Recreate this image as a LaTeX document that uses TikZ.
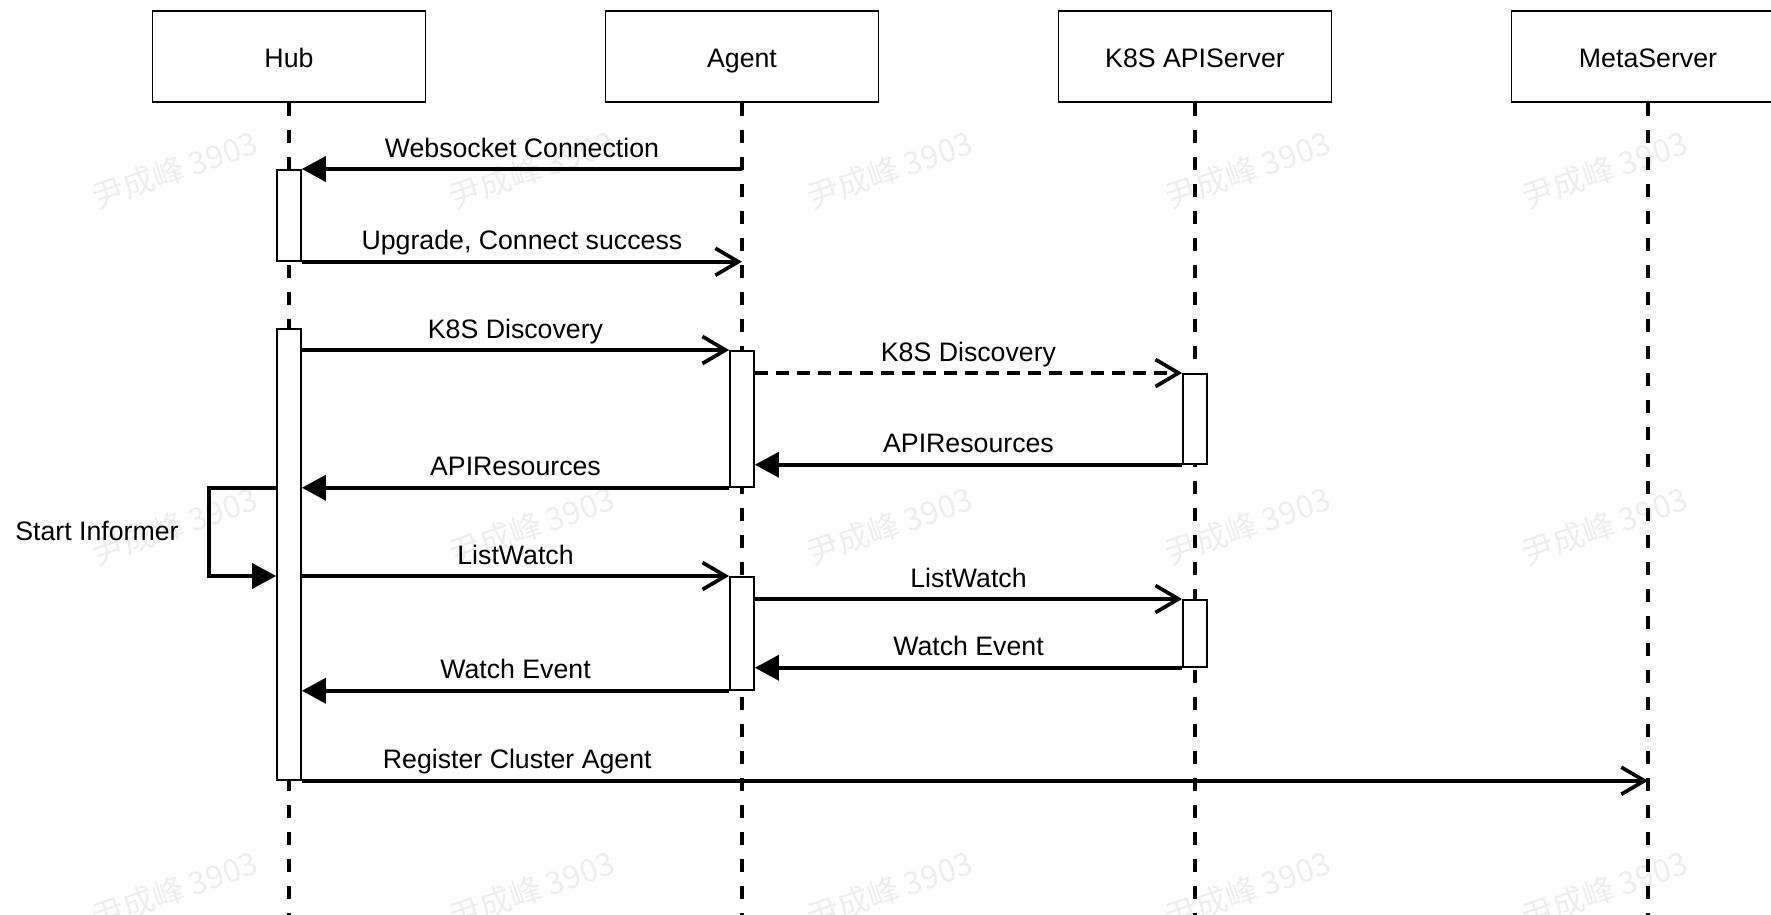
\documentclass[tikz,border=0pt]{standalone}
\usepackage{fontspec}
\setmainfont{Liberation Sans}
\newfontfamily\cjkfont{Noto Sans CJK SC}
\usetikzlibrary{arrows.meta}

\begin{document}
\begin{tikzpicture}[thick,
        every node/.style={font=\fontsize{7.6}{9}\selectfont, inner sep=1pt},
        actor/.style={draw, line width=0.55pt, minimum width=2.73cm, minimum height=0.91cm,
            text height=1.6ex, text depth=0.4ex},
        actbox/.style={draw, fill=white, line width=0.5pt, minimum width=0.24cm, anchor=north},
        lifeline/.style={line width=1pt, dash pattern=on 0.13cm off 0.14cm},
        call/.style={line width=1.05pt, -{Straight Barb[length=0.23cm, width=0.27cm]}},
        reply/.style={line width=1.05pt, -{Triangle[length=0.24cm, width=0.25cm]}},
        lbl/.style={midway, anchor=base, yshift=0.12cm},
        wmark/.style={text=black!7, rotate=19, font=\cjkfont\fontsize{9}{11}\selectfont}]
    \useasboundingbox (0,0) rectangle (17.71,-9.15);

    % Watermarks in the background
    \foreach \wx [count=\i] in {1.75,5.32,8.90,12.48,16.05}
        \foreach \wy [count=\j] in {-1.70,-5.26,-8.90}
            \node[wmark] (wm\i\j) at (\wx,\wy) {尹成峰 3903};

    % Participants
    \node[actor] (hub) at (2.89,-0.565) {Hub};
    \node[actor] (agent) at (7.42,-0.565) {Agent};
    \node[actor] (k8s) at (11.95,-0.565) {K8S APIServer};
    \node[actor] (meta) at (16.48,-0.565) {MetaServer};

    % Lifelines down to the bottom edge
    \coordinate (bottom) at (0,-9.15);
    \foreach \p in {hub,agent,k8s,meta}
        \draw[lifeline] (\p.south) -- (\p |- bottom);

    % Activation boxes
    \node[actbox, minimum height=0.91cm] (hubA1) at (2.89,-1.69) {};
    \node[actbox, minimum height=4.51cm] (hubA2) at (2.89,-3.28) {};
    \node[actbox, minimum height=1.36cm] (agentA1) at (7.42,-3.50) {};
    \node[actbox, minimum height=1.13cm] (agentA2) at (7.42,-5.76) {};
    \node[actbox, minimum height=0.90cm] (k8sA1) at (11.95,-3.73) {};
    \node[actbox, minimum height=0.67cm] (k8sA2) at (11.95,-5.99) {};

    % Connection
    \draw[reply] (agent |- hubA1.north) -- (hubA1.north east)
        node[lbl] {Websocket Connection};
    \draw[call] (hubA1.south east) -- (agent |- hubA1.south)
        node[lbl] {Upgrade, Connect success};

    % Discovery
    \draw[call] (hubA2.east |- agentA1.north) -- (agentA1.north west)
        node[lbl] {K8S Discovery};
    \draw[call, dash pattern=on 0.13cm off 0.08cm] (agentA1.east |- k8sA1.north) -- (k8sA1.north west)
        node[lbl] {K8S Discovery};
    \draw[reply] (k8sA1.south west) -- (agentA1.east |- k8sA1.south)
        node[lbl] {APIResources};
    \draw[reply] (agentA1.south west) -- (hubA2.east |- agentA1.south)
        node[lbl] {APIResources};

    % Self call on the hub
    \draw[reply] (hubA2.west |- agentA1.south) -- ++(-0.67,0) |- (hubA2.west |- agentA2.north);
    \node (informer) at (0.97,-5.31) {Start Informer};

    % ListWatch
    \draw[call] (hubA2.east |- agentA2.north) -- (agentA2.north west)
        node[lbl] {ListWatch};
    \draw[call] (agentA2.east |- k8sA2.north) -- (k8sA2.north west)
        node[lbl] {ListWatch};
    \draw[reply] (k8sA2.south west) -- (agentA2.east |- k8sA2.south)
        node[lbl] {Watch Event};
    \draw[reply] (agentA2.south west) -- (hubA2.east |- agentA2.south)
        node[lbl] {Watch Event};

    % Register
    \draw[call] (hubA2.south east) -- (meta |- hubA2.south)
        node[lbl, pos=0.16] {Register Cluster Agent};
\end{tikzpicture}
\end{document}
